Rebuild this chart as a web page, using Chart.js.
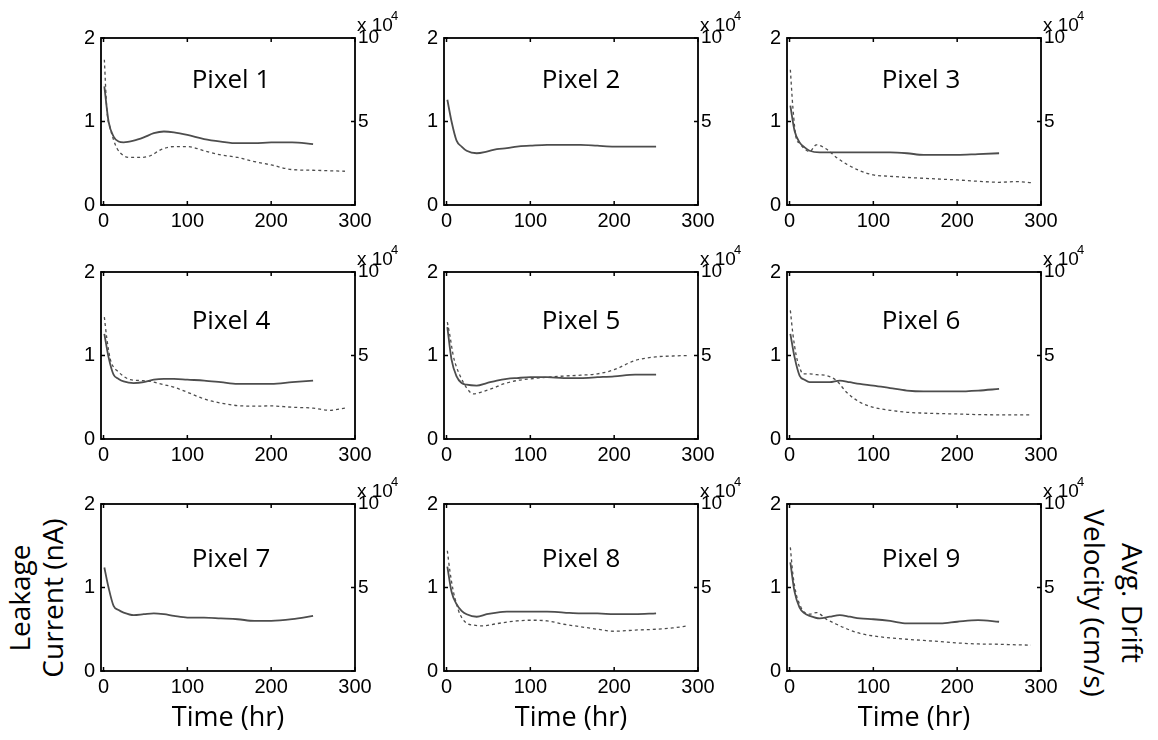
<!DOCTYPE html>
<html>
<head>
<meta charset="utf-8">
<title>Leakage current and drift velocity per pixel</title>
<script src="https://cdn.jsdelivr.net/npm/chart.js@4.4.1/dist/chart.umd.min.js"></script>
<style>
  body { margin: 0; background: #fff; }
  #page { position: relative; width: 1158px; height: 740px; overflow: hidden; font-family: "Open Sans", sans-serif; }
  #page canvas { position: absolute; }
  .side { position: absolute; white-space: nowrap; text-align: center; font-size: 28px; color: #000; }
  #leftLabel { left: 36px; top: 598px; line-height: 33px; transform: translate(-50%, -50%) rotate(-90deg); }
  #rightLabel { left: 1114px; top: 603px; line-height: 38px; transform: translate(-50%, -50%) rotate(90deg); }
</style>
</head>
<body>
<div id="page">
  <div class="side" id="leftLabel">Leakage<br>Current (nA)</div>
  <div class="side" id="rightLabel">Avg. Drift<br>Velocity (cm/s)</div>
</div>
<script>
'use strict';

// sample times (hr)
var currentTimes = [1, 6, 12, 18, 24, 36, 48, 60, 72, 84, 100, 120, 140, 160, 180, 200, 225, 250];
var velocityTimes = [1, 4, 8, 12, 16, 24, 32, 44, 56, 68, 84, 100, 120, 140, 160, 180, 200, 225, 250, 270, 288];

// leakage current (nA)
var current1 = [1.42, 1.0, 0.82, 0.76, 0.75, 0.77, 0.81, 0.86, 0.88, 0.87, 0.84, 0.79, 0.76, 0.74, 0.74, 0.75, 0.75, 0.73];
var current2 = [1.26, 1.0, 0.77, 0.7, 0.65, 0.62, 0.64, 0.67, 0.68, 0.7, 0.71, 0.72, 0.72, 0.72, 0.71, 0.7, 0.7, 0.7];
var current3 = [1.19, 0.89, 0.75, 0.69, 0.65, 0.63, 0.63, 0.63, 0.63, 0.63, 0.63, 0.63, 0.62, 0.6, 0.6, 0.6, 0.61, 0.62];
var current4 = [1.26, 0.98, 0.77, 0.72, 0.69, 0.67, 0.68, 0.71, 0.72, 0.72, 0.71, 0.7, 0.68, 0.66, 0.66, 0.66, 0.68, 0.7];
var current5 = [1.34, 0.95, 0.75, 0.67, 0.65, 0.64, 0.67, 0.7, 0.72, 0.73, 0.74, 0.74, 0.73, 0.73, 0.74, 0.75, 0.77, 0.77];
var current6 = [1.26, 0.98, 0.76, 0.71, 0.68, 0.68, 0.68, 0.7, 0.68, 0.66, 0.64, 0.61, 0.58, 0.57, 0.57, 0.57, 0.58, 0.6];
var current7 = [1.24, 1.0, 0.78, 0.73, 0.7, 0.67, 0.68, 0.69, 0.68, 0.66, 0.64, 0.64, 0.63, 0.62, 0.6, 0.6, 0.62, 0.66];
var current8 = [1.25, 0.95, 0.8, 0.72, 0.68, 0.65, 0.68, 0.7, 0.71, 0.71, 0.71, 0.71, 0.7, 0.69, 0.69, 0.68, 0.68, 0.69];
var current9 = [1.3, 0.95, 0.76, 0.69, 0.66, 0.63, 0.65, 0.67, 0.65, 0.63, 0.62, 0.6, 0.57, 0.57, 0.57, 0.59, 0.61, 0.59];

// average drift velocity (x 10^4 cm/s), pixels 2 and 7 have none
var velocity1 = [8.7, 5.7, 4.6, 3.9, 3.4, 2.95, 2.85, 2.85, 2.95, 3.3, 3.5, 3.5, 3.25, 3.0, 2.85, 2.6, 2.4, 2.12, 2.08, 2.05, 2.02];
var velocity3 = [8.1, 5.85, 4.0, 3.7, 3.45, 3.2, 3.6, 3.35, 2.85, 2.45, 2.05, 1.8, 1.72, 1.65, 1.6, 1.55, 1.5, 1.42, 1.36, 1.4, 1.34];
var velocity4 = [7.3, 6.0, 4.8, 4.3, 4.1, 3.75, 3.55, 3.5, 3.45, 3.3, 3.1, 2.8, 2.4, 2.15, 2.0, 1.97, 1.98, 1.9, 1.85, 1.72, 1.85];
var velocity5 = [7.0, 6.2, 5.0, 4.3, 3.8, 3.06, 2.7, 2.85, 3.05, 3.3, 3.5, 3.6, 3.7, 3.77, 3.82, 3.9, 4.15, 4.7, 4.92, 4.97, 5.0];
var velocity6 = [7.7, 6.3, 5.0, 4.3, 3.9, 3.9, 3.85, 3.8, 3.5, 2.8, 2.2, 1.9, 1.72, 1.6, 1.55, 1.52, 1.5, 1.46, 1.45, 1.45, 1.45];
var velocity8 = [7.2, 6.0, 4.8, 4.0, 3.4, 2.86, 2.75, 2.7, 2.8, 2.9, 3.0, 3.04, 3.0, 2.8, 2.65, 2.5, 2.38, 2.45, 2.5, 2.58, 2.7];
var velocity9 = [7.4, 5.8, 4.6, 4.0, 3.6, 3.4, 3.5, 3.1, 2.8, 2.53, 2.25, 2.1, 1.98, 1.9, 1.83, 1.76, 1.68, 1.62, 1.6, 1.57, 1.55];

var pixelNames = ['Pixel 1', 'Pixel 2', 'Pixel 3', 'Pixel 4', 'Pixel 5', 'Pixel 6', 'Pixel 7', 'Pixel 8', 'Pixel 9'];
var currents = [current1, current2, current3, current4, current5, current6, current7, current8, current9];
var velocities = [velocity1, null, velocity3, velocity4, velocity5, velocity6, null, velocity8, velocity9];

var timeTicks = [0, 100, 200, 300];
var currentTicks = [0, 1, 2];
var velocityTicks = [0, 5, 10];

// grid of plot boxes
var colLeft = [101, 444, 787];
var rowTop = [38, 272, 504];
var boxW = 254;
var boxH = 167;
var padLeft = 48;
var padRight = 50;
var padTop = 38;
var nameShiftX = [3, 10, 7];
var nameShiftY = [43, 50, 56];

var lineColor = '#4d4d4d';
var tickFont = { family: '"Liberation Sans", Arial, sans-serif', size: 20 };

function toPoints(times, values) {
  var pts = [];
  for (var i = 0; i < times.length; i++) {
    pts.push({ x: times[i], y: values[i] });
  }
  return pts;
}

function setTicks(list) {
  return function (scale) {
    scale.ticks = list.map(function (v) { return { value: v }; });
  };
}

// box, inward tick marks, panel name and the exponent of the right axis
var framePlugin = {
  id: 'frame',
  afterDraw: function (chart) {
    var ctx = chart.ctx;
    var area = chart.chartArea;
    var opts = chart.options.plugins.frame;
    var xs = chart.scales.x;
    var yl = chart.scales.yLeft;
    var yr = chart.scales.yRight;
    ctx.save();
    ctx.strokeStyle = '#000';
    ctx.lineWidth = 1.8;
    ctx.strokeRect(area.left, area.top, area.right - area.left, area.bottom - area.top);

    ctx.lineWidth = 1.5;
    ctx.beginPath();
    timeTicks.forEach(function (t) {
      var px = xs.getPixelForValue(t);
      ctx.moveTo(px, area.bottom); ctx.lineTo(px, area.bottom - 4);
      ctx.moveTo(px, area.top); ctx.lineTo(px, area.top + 4);
    });
    currentTicks.forEach(function (v) {
      var py = yl.getPixelForValue(v);
      ctx.moveTo(area.left, py); ctx.lineTo(area.left + 4, py);
    });
    velocityTicks.forEach(function (v) {
      var py = yr.getPixelForValue(v);
      ctx.moveTo(area.right, py); ctx.lineTo(area.right - 4, py);
    });
    ctx.stroke();

    ctx.fillStyle = '#000';
    ctx.font = '26px "Open Sans"';
    ctx.textAlign = 'center';
    ctx.textBaseline = 'middle';
    ctx.fillText(opts.name, (area.left + area.right) / 2 + opts.dx, area.top + opts.dy);

    ctx.textAlign = 'left';
    ctx.textBaseline = 'alphabetic';
    ctx.font = '19px "Liberation Sans"';
    ctx.fillText('x 10', area.right + 2, area.top - 7);
    ctx.font = '13px "Liberation Sans"';
    ctx.fillText('4', area.right + 36, area.top - 18);
    ctx.restore();
  }
};

var page = document.getElementById('page');

for (var p = 0; p < 9; p++) {
  var col = p % 3;
  var row = Math.floor(p / 3);
  var bottomRow = row === 2;
  var padBottom = bottomRow ? 66 : 32;

  var canvas = document.createElement('canvas');
  canvas.width = padLeft + boxW + padRight;
  canvas.height = padTop + boxH + padBottom;
  canvas.style.left = (colLeft[col] - padLeft) + 'px';
  canvas.style.top = (rowTop[row] - padTop) + 'px';
  page.appendChild(canvas);

  var datasets = [{
    label: 'Leakage current',
    data: toPoints(currentTimes, currents[p]),
    yAxisID: 'yLeft',
    borderColor: lineColor,
    borderWidth: 1.8,
    pointRadius: 0,
    cubicInterpolationMode: 'monotone',
    fill: false
  }];
  if (velocities[p]) {
    datasets.push({
      label: 'Avg. drift velocity',
      data: toPoints(velocityTimes, velocities[p]),
      yAxisID: 'yRight',
      borderColor: lineColor,
      borderWidth: 1.3,
      borderDash: [3, 3],
      pointRadius: 0,
      cubicInterpolationMode: 'monotone',
      fill: false
    });
  }

  new Chart(canvas.getContext('2d'), {
    type: 'line',
    data: { datasets: datasets },
    plugins: [framePlugin],
    options: {
      responsive: false,
      animation: false,
      layout: { padding: { top: padTop, left: 0, right: 0, bottom: 0 } },
      plugins: {
        legend: { display: false },
        tooltip: { enabled: false },
        frame: { name: pixelNames[p], dx: nameShiftX[col], dy: nameShiftY[row] }
      },
      scales: {
        x: {
          type: 'linear',
          min: -3,
          max: 300,
          afterBuildTicks: setTicks(timeTicks),
          afterFit: (function (h) { return function (s) { s.height = h; }; })(padBottom),
          grid: { display: false, drawTicks: false },
          border: { display: false },
          ticks: { font: tickFont, color: '#000', padding: 4, maxRotation: 0 },
          title: {
            display: bottomRow,
            text: 'Time (hr)',
            color: '#000',
            font: { family: '"Open Sans"', size: 27 },
            padding: { top: 0, bottom: 2 }
          }
        },
        yLeft: {
          type: 'linear',
          position: 'left',
          min: 0,
          max: 2,
          afterBuildTicks: setTicks(currentTicks),
          afterFit: function (s) { s.width = padLeft; },
          grid: { display: false, drawTicks: false },
          border: { display: false },
          ticks: { font: tickFont, color: '#000', padding: 6 }
        },
        yRight: {
          type: 'linear',
          position: 'right',
          min: 0,
          max: 10,
          afterBuildTicks: setTicks(velocityTicks),
          afterFit: function (s) { s.width = padRight; },
          grid: { display: false, drawTicks: false },
          border: { display: false },
          ticks: {
            font: { family: '"Liberation Sans", Arial, sans-serif', size: 19 },
            color: '#000',
            padding: 3,
            callback: function (v) { return v === 0 ? '' : String(v); }
          }
        }
      }
    }
  });
}
</script>
</body>
</html>
